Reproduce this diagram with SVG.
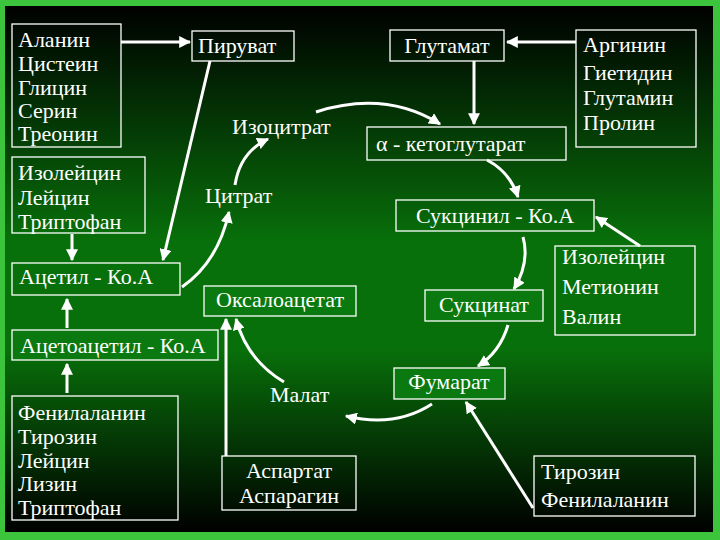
<svg xmlns="http://www.w3.org/2000/svg" width="720" height="540" viewBox="0 0 720 540">
<defs>
<linearGradient id="bg" x1="0" y1="0" x2="0" y2="1">
<stop offset="0" stop-color="#000"/>
<stop offset="0.45" stop-color="#08700a"/>
<stop offset="0.65" stop-color="#08700a"/>
<stop offset="1" stop-color="#000"/>
</linearGradient>
<marker id="a" viewBox="0 0 10 10" refX="9" refY="5" markerWidth="4" markerHeight="4" orient="auto" markerUnits="strokeWidth">
<path d="M0,0 L10,5 L0,10 Z" fill="#fff"/>
</marker>
<style>
.b{fill:none;stroke:#fff;stroke-width:1.3}
.g{fill:#0a7a10;stroke:#fff;stroke-width:1.3}
text{font-family:"Liberation Serif","Times New Roman","DejaVu Serif",serif;font-size:22px;fill:#fff}
.c path,.c line{fill:none;stroke:#fff;stroke-width:3;marker-end:url(#a)}
</style>
</defs>
<rect width="720" height="540" fill="#3cc43c"/>
<rect x="5" y="6" width="708" height="526" fill="url(#bg)"/>
<g id="n1"><rect class="b" x="12" y="24" width="109" height="123"/><text x="18" y="47">Аланин</text><text x="18" y="71">Цистеин</text><text x="18" y="95">Глицин</text><text x="18" y="118">Серин</text><text x="18" y="141">Треонин</text></g>
<g id="n2"><rect class="b" x="192" y="31" width="102" height="30"/><text x="198" y="53">Пируват</text></g>
<g id="n3"><rect class="b" x="12" y="157" width="133" height="76"/><text x="18" y="180">Изолейцин</text><text x="18" y="205">Лейцин</text><text x="18" y="229">Триптофан</text></g>
<g id="n4"><rect class="b" x="12" y="263" width="168" height="32"/><text x="19" y="284">Ацетил - Ко.А</text></g>
<g id="n5"><rect class="g" x="12" y="330" width="206" height="30"/><text x="20" y="353">Ацетоацетил - Ко.А</text></g>
<g id="n6"><rect class="b" x="12" y="396" width="166" height="124"/><text x="18" y="420">Фенилаланин</text><text x="18" y="444">Тирозин</text><text x="18" y="468">Лейцин</text><text x="18" y="491">Лизин</text><text x="18" y="515">Триптофан</text></g>
<g id="n7"><text x="232" y="134">Изоцитрат</text></g>
<g id="n8"><text x="205" y="203">Цитрат</text></g>
<g id="n9"><rect class="g" x="204" y="286" width="152" height="30"/><text x="280" y="307" text-anchor="middle">Оксалоацетат</text></g>
<g id="n10"><text x="270" y="402">Малат</text></g>
<g id="n11"><rect class="b" x="222" y="456" width="134" height="54"/><text x="289" y="478" text-anchor="middle">Аспартат</text><text x="289" y="503" text-anchor="middle">Аспарагин</text></g>
<g id="n12"><rect class="b" x="390" y="30" width="114" height="31"/><text x="447" y="53" text-anchor="middle">Глутамат</text></g>
<g id="n13"><rect class="b" x="576" y="30" width="120" height="117"/><text x="583" y="52">Аргинин</text><text x="583" y="80">Гиетидин</text><text x="583" y="105">Глутамин</text><text x="583" y="130">Пролин</text></g>
<g id="n14"><rect class="b" x="367" y="127" width="199" height="33"/><text x="376" y="151">α  - кетоглутарат</text></g>
<g id="n15"><rect class="b" x="396" y="200" width="198" height="31"/><text x="495" y="223" text-anchor="middle">Сукцинил - Ко.А</text></g>
<g id="n16"><rect class="b" x="555" y="246" width="140" height="89"/><text x="562" y="264">Изолейцин</text><text x="562" y="294">Метионин</text><text x="562" y="324">Валин</text></g>
<g id="n17"><rect class="g" x="425" y="290" width="118" height="31"/><text x="484" y="312" text-anchor="middle">Сукцинат</text></g>
<g id="n18"><rect class="g" x="394" y="368" width="111" height="31"/><text x="449" y="389" text-anchor="middle">Фумарат</text></g>
<g id="n19"><rect class="b" x="534" y="456" width="161" height="60"/><text x="541" y="479">Тирозин</text><text x="541" y="507">Фенилаланин</text></g>
<g id="connectors" class="c">
<line x1="121" y1="42" x2="190" y2="42"/>
<line x1="210" y1="61" x2="163" y2="260"/>
<line x1="72" y1="234" x2="72" y2="260"/>
<line x1="67" y1="328" x2="67" y2="299"/>
<line x1="67" y1="393" x2="67" y2="364"/>
<path d="M182,287 Q218,262 229,212"/>
<path d="M235,185 Q240,152 268,139"/>
<path d="M316,112 Q385,90 440,124"/>
<path d="M487,160 Q510,172 518,197"/>
<path d="M523,237 Q530,262 514,289"/>
<path d="M508,325 Q500,352 478,366"/>
<path d="M432,404 Q395,428 346,416"/>
<path d="M284,382 Q247,360 236,319"/>
<line x1="226" y1="456" x2="226" y2="319"/>
<line x1="533" y1="508" x2="466" y2="402"/>
<line x1="640" y1="246" x2="596" y2="217"/>
<line x1="576" y1="42" x2="507" y2="42"/>
<line x1="474" y1="61" x2="474" y2="124"/>
</g>
</svg>
